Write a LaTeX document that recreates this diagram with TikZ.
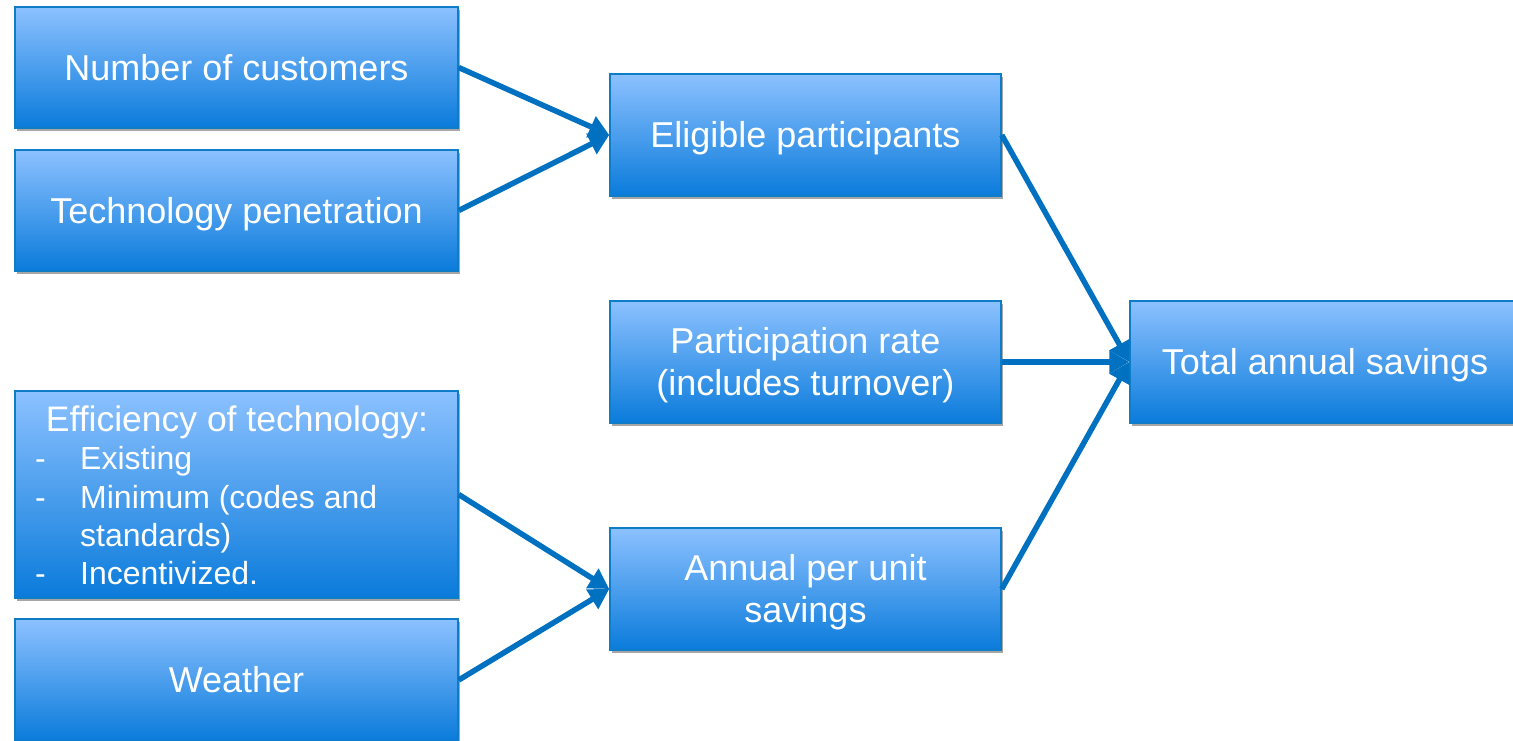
\documentclass[tikz,border=0pt]{standalone}
\usepackage{fontspec}
\setmainfont{Liberation Sans}
\usetikzlibrary{arrows.meta,shadows}
\definecolor{boxtop}{HTML}{8CC1FF}
\definecolor{boxbot}{HTML}{0A7BDB}
\definecolor{boxline}{HTML}{0E7CC6}
\definecolor{arrowc}{HTML}{0070C0}
\tikzset{
  fbox/.style={draw=boxline, line width=1.5pt, top color=boxtop, bottom color=boxbot,
    text=white, font=\fontsize{36}{42}\selectfont, align=center, inner sep=0pt,
    text height=25.8pt, text depth=0pt,
    drop shadow={shadow xshift=2pt, shadow yshift=-3pt, opacity=0.35, fill=black}},
  twoline/.style={text height=67.8pt},
  wtext/.style={text=white, inner sep=0pt},
  conn/.style={draw=arrowc, line width=5.5pt, -{Triangle[length=20pt,width=22pt]}}
}
\begin{document}
\begin{tikzpicture}[x=1pt,y=-1pt]
\useasboundingbox (0,0) rectangle (1513,740);
\node[fbox, minimum width=443pt, minimum height=121pt] (noc) at (236.5,67.5) {Number of customers};
\node[fbox, minimum width=443pt, minimum height=121pt] (tech) at (236.5,210.5) {Technology penetration};
\node[fbox, minimum width=443pt, minimum height=207pt] (eff) at (236.5,494.5) {};
\node[fbox, minimum width=443pt, minimum height=122pt] (wea) at (236.5,680) {Weather};
\node[fbox, minimum width=391pt, minimum height=122pt] (elig) at (805.5,135) {Eligible participants};
\node[fbox, twoline, minimum width=391pt, minimum height=122pt] (part) at (805.5,362) {Participation rate\\(includes turnover)};
\node[fbox, twoline, minimum width=391pt, minimum height=122pt] (ann) at (805.5,589) {Annual per unit\\savings};
\node[fbox, minimum width=390pt, minimum height=122pt] (total) at (1325,362) {Total annual savings};
% list text in efficiency box
\node[wtext, font=\fontsize{35.5}{40}\selectfont, anchor=base] (effh) at (237,431) {Efficiency of technology:};
\begin{scope}[every node/.style={wtext, font=\fontsize{32}{38}\selectfont, anchor=base west}]
\node (d1) at (35,469.5) {-};
\node (i1) at (80,469.5) {Existing};
\node (d2) at (35,508) {-};
\node (i2) at (80,508) {Minimum (codes and};
\node (i2b) at (80,546) {standards)};
\node (d3) at (35,584) {-};
\node (i3) at (80,584) {Incentivized.};
\end{scope}
% connectors
\draw[conn] (noc.east) -- (elig.west);
\draw[conn] (tech.east) -- (elig.west);
\draw[conn] (eff.east) -- (ann.west);
\draw[conn] (wea.east) -- (ann.west);
\draw[conn] (elig.east) -- (total.west);
\draw[conn] (part.east) -- (total.west);
\draw[conn] (ann.east) -- (total.west);
\end{tikzpicture}
\end{document}
